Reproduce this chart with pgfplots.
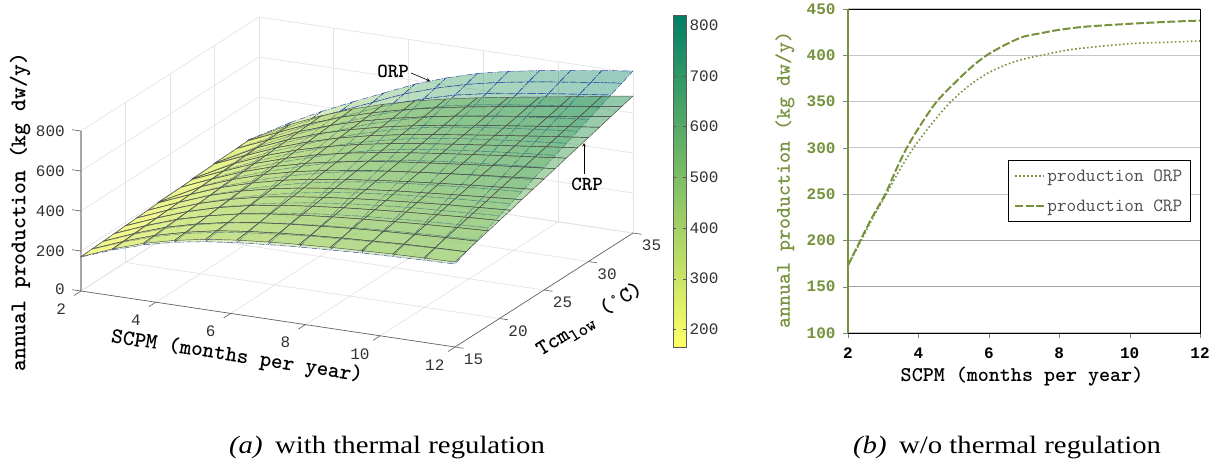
\documentclass[border=0pt]{standalone}
\usepackage{fontspec}
\usepackage{pgfplots}
\pgfplotsset{compat=1.18}
\newfontfamily\tickfont{Liberation Mono}
\setmainfont{Liberation Serif}[FakeStretch=1.15]
\definecolor{olivebar}{RGB}{118,146,60}
\definecolor{ticktxt}{RGB}{50,50,50}
\definecolor{orpmesh}{RGB}{40,70,170}
\begin{document}
\begin{tikzpicture}[x=1pt,y=1pt]
\path[use as bounding box] (0,0) rectangle (1217,461);
% (a) surfaces
\begin{axis}[
  at={(81pt,114pt)},anchor=south west,
  x={(37.4pt,-5.6pt)},y={(8.9pt,5.7pt)},z={(0pt,0.2pt)},
  xmin=2,xmax=12,ymin=15,ymax=35,zmin=0,zmax=800,
  xtick={2,4,...,12},ytick={15,20,...,35},ztick={0,200,...,800},
  grid=major,grid style={gray!22,line width=0.7pt},
  axis line style={draw=none},
  tick align=outside,tick pos=left,
  major tick length=8pt,
  tick style={draw=none},
  clip=false,
  /pgf/number format/assume math mode=true,
  tick label style={font=\fontsize{16}{16}\tickfont,text=ticktxt},
  xticklabel style={xshift=-8pt,yshift=-4pt},
  yticklabel style={xshift=1pt,yshift=0pt},
  zticklabel style={xshift=-6pt,yshift=8pt},
  colormap={sumr}{rgb=(1,1,.4) rgb=(0,.5,.4)},
  point meta min=165,point meta max=820,
  colorbar,
  colorbar style={
    at={(1.0725,1.006)},anchor=north west,
    width=13pt,height=332pt,
    ytick={200,300,...,800},
    yticklabel pos=right,
    tick align=inside,major tick length=3pt,
    axis line style={gray!70!black,draw},
    tick style={gray!70!black,draw},
    /pgf/number format/assume math mode=true,
    yticklabel style={font=\fontsize{16}{16}\tickfont,text=ticktxt,xshift=0pt,yshift=0pt},
  },
]
\draw[gray!70!black,line width=0.6pt] (axis cs:2,15,0)--(axis cs:12,15,0)--(axis cs:12,35,0);
\draw[gray!70,line width=1.5pt] (axis cs:2,15,0)--(axis cs:2,15,800);
\pgfplotsinvokeforeach{2,4,6,8,10,12}{\draw[gray!70!black,line width=0.6pt] (axis cs:#1,15,0)--++(-7pt,-4.5pt);}
\pgfplotsinvokeforeach{15,20,25,30,35}{\draw[gray!70!black,line width=0.6pt] (axis cs:12,#1,0)--++(8.5pt,-1.3pt);}
\pgfplotsinvokeforeach{0,200,400,600,800}{\draw[gray!70!black,line width=0.6pt] (axis cs:2,15,#1)--++(-9pt,1.3pt);}
% ORP
\addplot3[surf,shader=faceted,fill opacity=0.42,faceted color=orpmesh,line width=0.45pt,
  dash pattern=on 6pt off 1.5pt on 1pt off 1.5pt,mesh/cols=13,z buffer=auto,
  ] table[row sep=\\,header=false,
    x expr={2+mod(\coordindex,13)*10/12},y expr={15+floor(\coordindex/13)*1.25},z index=0] {
170\\228\\277\\314\\340\\358\\372\\383\\392\\400\\406\\411\\415\\
173\\232\\283\\322\\351\\372\\388\\402\\412\\421\\429\\435\\440\\
176\\236\\289\\330\\362\\386\\405\\420\\432\\443\\451\\458\\464\\
179\\241\\295\\339\\372\\400\\421\\439\\453\\464\\474\\482\\489\\
183\\245\\301\\347\\383\\414\\438\\458\\473\\486\\496\\505\\514\\
186\\249\\307\\355\\394\\428\\454\\476\\493\\507\\519\\529\\538\\
189\\253\\313\\363\\405\\442\\471\\495\\513\\528\\541\\553\\563\\
192\\257\\319\\371\\416\\456\\487\\513\\533\\550\\564\\576\\588\\
195\\262\\326\\380\\427\\470\\504\\532\\553\\571\\586\\600\\612\\
198\\266\\332\\388\\437\\483\\520\\551\\574\\592\\609\\624\\637\\
201\\270\\338\\396\\448\\497\\536\\569\\594\\614\\631\\647\\662\\
204\\274\\344\\404\\459\\511\\553\\588\\614\\635\\654\\671\\687\\
208\\278\\350\\412\\470\\525\\569\\607\\634\\656\\676\\694\\711\\
211\\282\\356\\420\\481\\539\\586\\625\\654\\678\\699\\718\\736\\
214\\287\\362\\429\\491\\553\\602\\644\\675\\699\\721\\742\\761\\
217\\291\\368\\437\\502\\567\\619\\662\\695\\721\\744\\765\\785\\
220\\295\\374\\445\\513\\581\\635\\681\\715\\742\\766\\789\\810\\
};
% CRP
\addplot3[surf,shader=faceted,fill opacity=0.55,faceted color=black!70,line width=0.45pt,mesh/cols=13,
  z buffer=auto,
  ] table[row sep=\\,header=false,
    x expr={2+mod(\coordindex,13)*10/12},y expr={15+floor(\coordindex/13)*1.25},z index=0] {
172\\233\\285\\323\\352\\371\\385\\396\\405\\412\\418\\422\\425\\
175\\236\\289\\328\\359\\379\\394\\406\\416\\424\\432\\437\\441\\
178\\240\\294\\334\\365\\387\\403\\416\\428\\437\\445\\452\\458\\
181\\243\\298\\339\\372\\395\\412\\427\\439\\449\\459\\467\\474\\
184\\246\\302\\345\\378\\403\\421\\437\\450\\462\\472\\482\\490\\
187\\250\\306\\350\\385\\410\\430\\447\\461\\474\\486\\496\\506\\
190\\253\\311\\356\\391\\418\\439\\457\\473\\486\\499\\511\\523\\
193\\256\\315\\361\\398\\426\\448\\467\\484\\499\\513\\526\\539\\
196\\260\\319\\367\\405\\434\\458\\478\\495\\511\\527\\541\\555\\
199\\263\\323\\372\\411\\442\\467\\488\\506\\523\\540\\556\\571\\
202\\266\\328\\377\\418\\450\\476\\498\\518\\536\\554\\571\\588\\
205\\269\\332\\383\\424\\458\\485\\508\\529\\548\\567\\586\\604\\
208\\273\\336\\388\\431\\466\\494\\518\\540\\561\\581\\601\\620\\
211\\276\\340\\394\\437\\473\\503\\528\\551\\573\\594\\615\\636\\
214\\279\\345\\399\\444\\481\\512\\539\\562\\585\\608\\630\\653\\
217\\283\\349\\405\\450\\489\\521\\549\\574\\598\\621\\645\\669\\
220\\286\\353\\410\\457\\497\\530\\559\\585\\610\\635\\660\\685\\
};
\end{axis}
% (b) curves
\begin{axis}[
  at={(848pt,128pt)},anchor=south west,
  width=352pt,height=324pt,scale only axis,
  xmin=2,xmax=12,ymin=100,ymax=450,
  xtick={2,4,...,12},ytick={100,250,300,350,400,450},
  extra y ticks={150,200},
  extra y tick style={grid style={gray!75,line width=0.6pt}},
  ymajorgrids,grid style={gray!45,line width=1.1pt},
  tick align=outside,xtick pos=bottom,ytick pos=left,
  major tick length=5pt,
  axis line style={black,line width=0.6pt},
  /pgf/number format/assume math mode=true,
  xticklabel style={font=\fontsize{16}{16}\tickfont\bfseries,yshift=-6pt},
  yticklabel style={font=\fontsize{16}{16}\tickfont\bfseries,text=olivebar,xshift=-4pt},
  clip=false,
  legend style={at={(0.4545,0.534)},anchor=north west,draw=black,line width=0.8pt,
    font=\fontsize{18.7}{19}\ttfamily,inner xsep=6pt,inner ysep=7pt,row sep=13pt,
    text=black!70},
  legend cell align=left,
  legend image code/.code={\draw[#1] (0pt,0pt)--(29pt,0pt);},
]
\addplot[olivebar,line width=1.6pt,dash pattern=on 1.6pt off 2.4pt,smooth,tension=0.5] coordinates {
(2,173)(2.35,198)(2.7,224)(3.06,248)(3.45,275)(3.86,300)(4.4,327)(4.9,349)(5.4,366)(5.94,380)
(6.5,390)(7,396)(7.55,400.5)(8.3,406)(9.25,410)(10.2,413)(11,414)(12,415.5)};
\addlegendentry{production ORP}
\addplot[olivebar,line width=2pt,dash pattern=on 8pt off 2.5pt,smooth,tension=0.5] coordinates {
(2,173)(2.35,200)(2.7,226)(3.06,250)(3.35,275)(3.67,300)(4.1,327)(4.52,350)(5,369)(5.5,387)
(5.94,400)(6.5,412)(6.98,420)(7.5,424)(8,427.5)(8.77,431)(10,434)(11,436)(12,437.5)};
\addlegendentry{production CRP}
\draw[black,line width=0.6pt] (axis cs:2,450)--(axis cs:12,450)--(axis cs:12,100);
\draw[olivebar,line width=1.5pt] (axis cs:2,100)--(axis cs:2,450);
\end{axis}
% labels
\node[rotate=90,font=\fontsize{22.5}{22}\ttfamily\bfseries] at (20,249) {annual production (kg dw/y)};
\node[rotate=-8.9,font=\fontsize{22}{22}\ttfamily\bfseries] at (237,104) {SCPM (months per year)};
\node[rotate=32,font=\fontsize{22}{22}\ttfamily\bfseries] at (590,141) {Tcm\raisebox{-5pt}{\fontsize{18}{18}\selectfont low} (°C)};
\node[rotate=90,font=\fontsize{21}{21}\ttfamily\bfseries,text=olivebar] at (785,281) {annual production (kg dw/y)};
\node[font=\fontsize{21}{21}\ttfamily\bfseries] at (1022,84) {SCPM (months per year)};
% annotations
\node[font=\fontsize{20}{20}\ttfamily\bfseries] at (393,390) {ORP};
\draw[-stealth,black,line width=0.6pt] (411,388)--(430,380);
\node[font=\fontsize{20}{20}\ttfamily\bfseries] at (587,277) {CRP};
\draw[-stealth,black,line width=0.6pt] (584,287)--(584,318);
% captions
\node[font=\fontsize{25}{25}\selectfont] at (387,13) {\textit{(a)}\enspace with thermal regulation};
\node[font=\fontsize{25}{25}\selectfont] at (1007,13) {\textit{(b)}\enspace w/o thermal regulation};
\end{tikzpicture}
\end{document}
